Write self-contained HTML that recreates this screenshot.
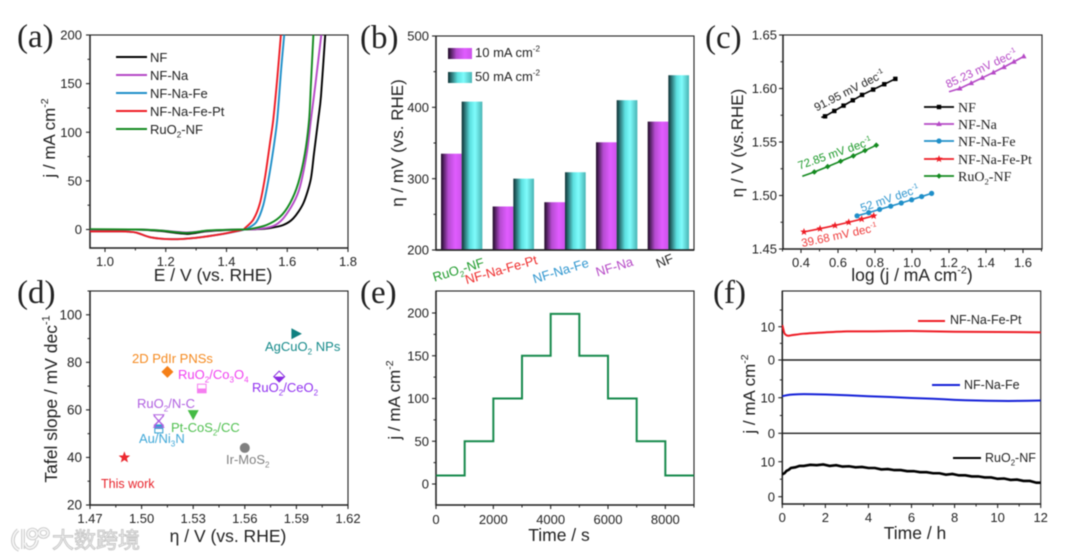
<!DOCTYPE html>
<html><head><meta charset="utf-8"><title>Electrocatalyst performance panels</title>
<style>
html,body{margin:0;padding:0;background:#fff;width:1080px;height:559px;overflow:hidden}
svg{display:block;filter:blur(.4px)}
text{font-family:"Liberation Sans","Noto Sans CJK SC",sans-serif;fill:#222}
</style></head>
<body>
<svg id="fig" xmlns="http://www.w3.org/2000/svg" width="1080" height="559" viewBox="0 0 1080 559">
<defs>
<linearGradient id="g10" x1="0" x2="1" y1="0" y2="0"><stop offset="0" stop-color="#1d0a24"/><stop offset=".35" stop-color="#b44bd0"/><stop offset=".7" stop-color="#e05cff"/><stop offset="1" stop-color="#cc52ea"/></linearGradient>
<linearGradient id="g50" x1="0" x2="1" y1="0" y2="0"><stop offset="0" stop-color="#0d3033"/><stop offset=".4" stop-color="#5ce0e0"/><stop offset=".65" stop-color="#7ffcfc"/><stop offset="1" stop-color="#48b4b4"/></linearGradient>
<clipPath id="clipA"><rect x="90" y="35" width="258" height="213"/></clipPath>
<clipPath id="clipF"><rect x="782" y="291" width="259" height="213"/></clipPath>
</defs>
</svg>
<script>
// Panel (a)
const aSeriesNames = ['NF','NF-Na','NF-Na-Fe','NF-Na-Fe-Pt','RuO_{2}-NF'];
const aE_NF  = [0.95,1.10,1.18,1.27,1.33,1.40,1.50,1.543,1.587,1.62,1.653,1.677,1.688,1.702,1.711,1.725];
const aJ_NF  = [0,0,-1.5,-4.5,-2,-0.5,0.3,1.5,4.6,11.5,27,51,78,113,137,200];
const aE_Na  = [0.95,1.10,1.18,1.27,1.33,1.40,1.50,1.554,1.587,1.62,1.642,1.664,1.678,1.693,1.712];
const aJ_Na  = [0,0,-1,-3,-1.5,-0.3,0.4,3.6,11.5,27,44,78,113,150,200];
const aE_Fe  = [0.95,1.05,1.10,1.15,1.22,1.30,1.38,1.44,1.46,1.472,1.499,1.521,1.538,1.554,1.567,1.58,1.59];
const aJ_Fe  = [-2,-2,-3,-8,-10,-8.5,-5,-1.5,0,1.5,8,25,51,82,113,165,200];
const aE_Pt  = [0.95,1.05,1.10,1.15,1.22,1.30,1.38,1.44,1.455,1.461,1.488,1.51,1.527,1.543,1.554,1.567,1.579];
const aJ_Pt  = [-2,-2,-3,-8,-10,-8.5,-5,-1.2,0,1.5,10,27,54,88.6,113,155,200];
const aE_Ru  = [0.95,1.10,1.18,1.27,1.34,1.44,1.477,1.532,1.576,1.609,1.636,1.658,1.672,1.678,1.686];
const aJ_Ru  = [0.3,0,-1,-3.5,-1,0,0.5,4.6,13,27,47.5,78,113,150,200];
const aXTicks = [1.0,1.2,1.4,1.6,1.8];
const aXMinor = [1.1,1.3,1.5,1.7];
const aYTicks = [0,50,100,150,200];
const aYMinor = [25,75,125,175];
// Panel (b)
const bCategories = ['RuO_{2}-NF','NF-Na-Fe-Pt','NF-Na-Fe','NF-Na','NF'];
const bValues10 = [335,261,267,351,380];
const bValues50 = [408,300,309,410,445];
const bYTicks = [200,300,400,500];
const bYMinor = [250,350,450];
// Panel (c)
const cX_NF = [0.51,0.53,0.58,0.63,0.68,0.73,0.79,0.85,0.91];
const cY_NF = [1.573,1.574,1.579,1.584,1.589,1.594,1.599,1.604,1.609];
const cX_Na = [1.20,1.258,1.32,1.38,1.44,1.497,1.551,1.604];
const cY_Na = [1.597,1.600,1.605,1.610,1.615,1.620,1.625,1.630];
const cX_Fe = [0.703,0.766,0.825,0.885,0.942,0.998,1.052,1.106];
const cY_Fe = [1.481,1.484,1.487,1.490,1.493,1.496,1.499,1.502];
const cX_Pt = [0.416,0.503,0.584,0.658,0.728,0.793];
const cY_Pt = [1.466,1.469,1.472,1.475,1.478,1.481];
const cX_Ru = [0.407,0.472,0.544,0.614,0.683,0.746,0.807];
const cY_Ru = [1.518,1.522,1.527,1.532,1.537,1.542,1.547];
const cXTicks = [0.4,0.6,0.8,1.0,1.2,1.4,1.6];
const cXMinor = [0.3,0.5,0.7,0.9,1.1,1.3,1.5,1.7];
const cYTicks = [1.45,1.50,1.55,1.60,1.65];
const cYMinor = [1.475,1.525,1.575,1.625];
// Panel (d)
const dEta   = [1.49,1.51,1.51,1.53,1.515,1.535,1.58,1.59,1.56];
const dSlope = [40,52,55,58,76,69,74,92,44];
const dXTicks = [1.47,1.50,1.53,1.56,1.59,1.62];
const dXMinor = [1.485,1.515,1.545,1.575,1.605];
const dYTicks = [20,40,60,80,100];
const dYMinor = [30,50,70,90,110];
// Panel (e)
const eStepStart = [0,1000,2000,3000,4000,5000,6000,7000,8000];
const eCurrent   = [10,50,100,150,199,150,100,50,10];
const eEndTime = 9000;
const eXTicks = [0,2000,4000,6000,8000];
const eXMinor = [1000,3000,5000,7000,9000];
const eYTicks = [0,50,100,150,200];
const eYMinor = [25,75,125,175];
// Panel (f)
const fT_Pt = [0,0.05,0.1,0.2,0.3,0.5,1,2,3,4,6,8,10,12];
const fJ_Pt = [10.5,9.2,8,7.4,7.3,7.5,7.9,8.3,8.6,8.6,8.7,8.5,8.4,8.3];
const fT_Fe = [0,0.2,0.5,1,2,3,4,5,6,7,8,9,10,11,12];
const fJ_Fe = [10.4,10.7,10.9,11,10.9,10.7,10.4,10.2,9.9,9.7,9.4,9.2,9.1,9.1,9.2];
const fT_Ru = [0,.1,.2,.3,.4,.6,.8,1,1.3,1.6,1.9,2.2,2.5,2.8,3.1,3.4,3.7,4,4.3,4.6,4.9,5.2,5.5,5.8,6.1,6.4,6.7,7,7.3,7.6,7.9,8.2,8.5,8.8,9.1,9.4,9.7,10,10.3,10.6,10.9,11.2,11.5,11.8,12];
const fJ_Ru = [6.4,6.7,7.4,7.7,8.2,8.4,8.8,8.8,9.1,9.0,9.2,8.8,9.0,8.6,8.7,8.4,8.5,8.2,8.2,7.8,7.9,7.6,7.6,7.3,7.3,7.0,7.0,6.7,6.7,6.3,6.5,6.1,6.1,5.8,5.8,5.5,5.5,5.1,5.2,4.8,4.9,4.5,4.5,4.0,4.0];
const fXTicks = [0,2,4,6,8,10,12];
const fXMinor = [1,3,5,7,9,11];

const NS = 'http://www.w3.org/2000/svg';
const root = document.getElementById('fig');
const INK = '#222';

function linear(d0,d1,r0,r1){ return v => r0 + (v-d0)/(d1-d0)*(r1-r0); }
function mk(tag,name,attrs,parent){
  const el = document.createElementNS(NS,tag);
  
  
  for(const k in attrs) el.setAttribute(k,attrs[k]);
  (parent||root).appendChild(el);
  return el;
}
function fmt(s,size){
  const small = (size*0.62).toFixed(1), sh = (size*0.28).toFixed(1), sup = (size*0.42).toFixed(1);
  return s.replace(/_\{([^}]*)\}/g,`<tspan dy="${sh}" font-size="${small}">$1</tspan><tspan dy="-${sh}">\u200b</tspan>`)
          .replace(/\^\{([^}]*)\}/g,`<tspan dy="-${sup}" font-size="${small}">$1</tspan><tspan dy="${sup}">\u200b</tspan>`);
}
function label(name,x,y,s,size,opts){
  opts = opts||{};
  const a = {x:x,y:y,'font-size':size};
  if(opts.anchor) a['text-anchor']=opts.anchor;
  if(opts.color) a.style='fill:'+opts.color;
  if(opts.rot!==undefined) a.transform=`rotate(${opts.rot} ${x} ${y})`;
  if(opts.serif) a.style=(a.style?a.style+';':'')+'font-family:"Liberation Serif",serif';
  const t = mk('text',name,a);
  t.innerHTML = fmt(s,size);
  return t;
}
function frame(name,x0,x1,y0,y1){
  mk('rect',name+'-frame',{x:x0,y:y0,width:x1-x0,height:y1-y0,fill:'#fff',stroke:INK,'stroke-width':1.1});
  mk('path',name+'-axis-lines',{d:`M${x0} ${y0}V${y1}H${x1}`,fill:'none',stroke:INK,'stroke-width':1.5});
}
function xAxis(name,sx,y,majors,minors,fmtFn,labelY,size){
  majors.forEach(v=>{
    mk('line',name+'-x-tick',{x1:sx(v),x2:sx(v),y1:y,y2:y+4,stroke:INK,'stroke-width':1.1});
    label(name+'-x-tick-label',sx(v),labelY,fmtFn(v),size||13,{anchor:'middle'});
  });
  minors.forEach(v=>{
    mk('line',name+'-x-minor-tick',{x1:sx(v),x2:sx(v),y1:y,y2:y+2.5,stroke:INK,'stroke-width':1});
  });
}
function yAxis(name,sy,x,majors,minors,fmtFn,labelX,size){
  majors.forEach(v=>{
    mk('line',name+'-y-tick',{x1:x-4,x2:x,y1:sy(v),y2:sy(v),stroke:INK,'stroke-width':1.1});
    label(name+'-y-tick-label',labelX,sy(v)+4.6,fmtFn(v),size||13,{anchor:'end'});
  });
  minors.forEach(v=>{
    mk('line',name+'-y-minor-tick',{x1:x-2.5,x2:x,y1:sy(v),y2:sy(v),stroke:INK,'stroke-width':1});
  });
}
function smooth(pts){
  let d = `M${pts[0][0].toFixed(2)} ${pts[0][1].toFixed(2)}`;
  for(let i=0;i<pts.length-1;i++){
    const p0=pts[Math.max(i-1,0)],p1=pts[i],p2=pts[i+1],p3=pts[Math.min(i+2,pts.length-1)];
    const k=0.14;
    d+=`C${(p1[0]+(p2[0]-p0[0])*k).toFixed(2)} ${(p1[1]+(p2[1]-p0[1])*k).toFixed(2)} ${(p2[0]-(p3[0]-p1[0])*k).toFixed(2)} ${(p2[1]-(p3[1]-p1[1])*k).toFixed(2)} ${p2[0].toFixed(2)} ${p2[1].toFixed(2)}`;
  }
  return d;
}
function zip(xs,ys,sx,sy){ return xs.map((x,i)=>[sx(x),sy(ys[i])]); }
function star(r){
  const p=[];
  for(let i=0;i<10;i++){
    const rr=i%2?r*0.42:r, a=-Math.PI/2+i*Math.PI/5;
    p.push((rr*Math.cos(a)).toFixed(2)+','+(rr*Math.sin(a)).toFixed(2));
  }
  return p.join(' ');
}

// Panel letters
[['a',17,47],['b',360,48],['c',705,48],['d',17,303],['e',360,303],['f',713,303]].forEach(p=>{
  label('panel-letter-'+p[0],p[1],p[2],'('+p[0]+')',33,{serif:true});
});

/* ---------- (a) ---------- */
(function(){
  const sx=linear(1.0,1.8,105,348), sy=linear(0,200,229.5,35);
  frame('lsv-plot',90,348,35,248);
  xAxis('lsv',sx,248,aXTicks,aXMinor,v=>v.toFixed(1),266);
  yAxis('lsv',sy,90,aYTicks,aYMinor,v=>String(v),82);
  const colors=['#000','#b548c6','#1f8fc9','#ee1c25','#138a1f'];
  const g=mk('g','lsv-curves',{'clip-path':'url(#clipA)'});
  [[aE_NF,aJ_NF],[aE_Na,aJ_Na],[aE_Fe,aJ_Fe],[aE_Pt,aJ_Pt],[aE_Ru,aJ_Ru]].forEach((s,i)=>{
    mk('path','lsv-curve-'+i,{d:smooth(zip(s[0],s[1],sx,sy)),fill:'none',stroke:colors[i],'stroke-width':1.9},g);
  });
  aSeriesNames.forEach((n,i)=>{
    const y=57+i*18;
    mk('line','lsv-legend-line-'+i,{x1:116,x2:147,y1:y,y2:y,stroke:colors[i],'stroke-width':2});
    label('lsv-legend-label-'+i,150,y+4.8,n,13);
  });
  label('lsv-x-axis-title',213,281,'E / V (vs. RHE)',17.5,{anchor:'middle'});
  label('lsv-y-axis-title',55,138,'j / mA cm^{-2}',17,{anchor:'middle',rot:-90});
})();

/* ---------- (b) ---------- */
(function(){
  const sy=linear(200,500,250,36);
  const left=441, step=51.67, w=20.67;
  const colors=['#1d9a2a','#ee2a2a','#2f96cf','#b548c6','#222'];
  const nudgeX=[-2,-11,-3,-1,-2], nudgeY=[20,20,21,17,11], rot=[-17,-16,-17,-17,-22];
  frame('overpotential-plot',436,694,36,250);
  yAxis('overpotential',sy,436,bYTicks,bYMinor,v=>String(v),429);
  bCategories.forEach((c,i)=>{
    const x=left+i*step;
    mk('rect','bar-10-'+i,{x:x,y:sy(bValues10[i]),width:w,height:250-sy(bValues10[i]),fill:'url(#g10)'});
    mk('rect','bar-50-'+i,{x:x+w,y:sy(bValues50[i]),width:w,height:250-sy(bValues50[i]),fill:'url(#g50)'});
    label('category-label-'+i,x+w+nudgeX[i],250+nudgeY[i]+4,c,13,{anchor:'middle',color:colors[i],rot:rot[i]});
  });
  mk('path','overpotential-baseline',{d:'M436 250H694',stroke:INK,'stroke-width':1.5});
  mk('rect','legend-swatch-10',{x:448,y:48,width:24,height:11,fill:'url(#g10)'});
  mk('rect','legend-swatch-50',{x:448,y:72,width:24,height:11,fill:'url(#g50)'});
  label('legend-label-10',475,57,'10 mA cm^{-2}',13);
  label('legend-label-50',475,81,'50 mA cm^{-2}',13);
  label('overpotential-y-axis-title',403,143,'η / mV (vs. RHE)',17,{anchor:'middle',rot:-90});
})();

/* ---------- (c) ---------- */
(function(){
  const sx=linear(0.4,1.6,801,1023), sy=linear(1.45,1.65,249,35);
  frame('tafel-plot',783,1042,35,249);
  xAxis('tafel',sx,249,cXTicks,cXMinor,v=>v.toFixed(1),267);
  yAxis('tafel',sy,783,cYTicks,cYMinor,v=>v.toFixed(2),777);
  const marker=(type,x,y,color,name)=>{
    if(type==='square') mk('rect',name,{x:x-2.2,y:y-2.2,width:4.4,height:4.4,fill:color});
    if(type==='tri') mk('path',name,{d:`M${x} ${y-3}L${x+2.8} ${y+2}H${x-2.8}Z`,fill:color});
    if(type==='circle') mk('circle',name,{cx:x,cy:y,r:2.6,fill:color});
    if(type==='star') mk('polygon',name,{points:star(3.9),transform:`translate(${x} ${y})`,fill:color});
    if(type==='diamond') mk('path',name,{d:`M${x} ${y-2.8}L${x+2.8} ${y}L${x} ${y+2.8}L${x-2.8} ${y}Z`,fill:color});
  };
  const series=[
    {n:'NF',xs:cX_NF,ys:cY_NF,c:'#000',m:'square',skip:1},
    {n:'NF-Na',xs:cX_Na,ys:cY_Na,c:'#b548c6',m:'tri',skip:1},
    {n:'NF-Na-Fe',xs:cX_Fe,ys:cY_Fe,c:'#1f8fc9',m:'circle',skip:0},
    {n:'NF-Na-Fe-Pt',xs:cX_Pt,ys:cY_Pt,c:'#ee1c25',m:'star',skip:0},
    {n:'RuO_{2}-NF',xs:cX_Ru,ys:cY_Ru,c:'#138a1f',m:'diamond',skip:1}
  ];
  series.forEach((s,i)=>{
    const pts=zip(s.xs,s.ys,sx,sy);
    mk('polyline','tafel-line-'+i,{points:pts.map(p=>p[0].toFixed(2)+','+p[1].toFixed(2)).join(' '),fill:'none',stroke:s.c,'stroke-width':1.6});
    pts.forEach((p,j)=>{ if(j>=s.skip) marker(s.m,p[0],p[1],s.c,'tafel-point-'+i); });
    const ly=[107,124,141,159,176][i];
    mk('line','tafel-legend-line-'+i,{x1:924,x2:954,y1:ly,y2:ly,stroke:s.c,'stroke-width':1.7});
    marker(s.m,939,ly,s.c,'tafel-legend-marker-'+i);
    label('tafel-legend-label-'+i,958,ly+4.8,s.n,14,{serif:true});
  });
  label('slope-label-nf',851,94,'91.95 mV dec^{-1}',11.5,{anchor:'middle',rot:-27,color:'#222'});
  label('slope-label-na',983,72,'85.23 mV dec^{-1}',11.5,{anchor:'middle',rot:-25,color:'#b548c6'});
  label('slope-label-ru',836,157,'72.85 mV dec^{-1}',11.5,{anchor:'middle',rot:-19,color:'#1d9a2a'});
  label('slope-label-fe',891,202,'52 mV dec^{-1}',11.5,{anchor:'middle',rot:-19,color:'#2f96cf'});
  label('slope-label-pt',840,239,'39.68 mV dec^{-1}',11.5,{anchor:'middle',rot:-12,color:'#ee3a3a'});
  label('tafel-x-axis-title',912,281,'log (j / mA cm^{-2})',17.5,{anchor:'middle'});
  label('tafel-y-axis-title',743,143,'η / V (vs.RHE)',17,{anchor:'middle',rot:-90});
})();

/* ---------- (d) ---------- */
(function(){
  const sx=linear(1.47,1.62,90,348), sy=linear(20,110,505,291);
  frame('comparison-plot',90,348,291,505);
  xAxis('comparison',sx,505,dXTicks,dXMinor,v=>v.toFixed(2),523);
  yAxis('comparison',sy,90,dYTicks,dYMinor,v=>String(v),82,13.5);
  const draw=[
    (g)=>{ mk('polygon','this-work-star',{points:star(5.2),fill:'#ee2a30',stroke:'#e8222a','stroke-width':.6},g); },
    (g)=>{ mk('rect','au-ni3n-box',{x:-4,y:-4,width:8,height:8,fill:'#fff',stroke:'#2f9fd0','stroke-width':1},g);
           mk('rect','au-ni3n-fill',{x:-4,y:-4,width:8,height:4,fill:'#2f9fd0'},g); },
    (g)=>{ mk('path','ruo2-nc-triangle-up',{d:'M0 -1L5 5.5H-5Z',fill:'none',stroke:'#b060e0','stroke-width':1},g);
           mk('path','ruo2-nc-triangle-down',{d:'M-5 -7H5L0 0Z',fill:'none',stroke:'#b060e0','stroke-width':1},g);
           mk('path','ruo2-nc-cross',{d:'M-5 -6L5 4M5 -6L-5 4',stroke:'#b060e0','stroke-width':1},g); },
    (g)=>{ mk('path','pt-cos2-triangle',{d:'M-5.5 -4.5H5.5L0 5.5Z',fill:'#44bb44'},g); },
    (g)=>{ mk('path','pdir-diamond',{d:'M0 -6L6 0L0 6L-6 0Z',fill:'#f57f17'},g); },
    (g)=>{ mk('rect','ruo2-co3o4-box',{x:-4.3,y:-4.3,width:8.6,height:8.6,fill:'#fff',stroke:'#f57ef0','stroke-width':1},g);
           mk('rect','ruo2-co3o4-fill',{x:-4.3,y:0,width:8.6,height:4.3,fill:'#f57ef0'},g); },
    (g)=>{ mk('path','ruo2-ceo2-diamond',{d:'M0 -5.5L5.5 0L0 5.5L-5.5 0Z',fill:'#fff',stroke:'#8a2be2','stroke-width':1},g);
           mk('path','ruo2-ceo2-fill',{d:'M-5.5 0H5.5L0 5.5Z',fill:'#8a2be2'},g); },
    (g)=>{ mk('path','agcuo2-triangle',{d:'M-5 -5.5V5.5L5.5 0Z',fill:'#0f8080'},g); },
    (g)=>{ mk('circle','ir-mos2-circle',{cx:0,cy:0,r:5,fill:'#808080'},g); }
  ];
  dEta.forEach((e,i)=>{
    const g=mk('g','comparison-point-'+i,{transform:`translate(${sx(e)} ${sy(dSlope[i])})`});
    draw[i](g);
  });
  label('label-this-work',101,488,'This work',12.5,{color:'#e8222a'});
  label('label-au-ni3n',139,443,'Au/Ni_{3}N',13,{color:'#40a8d8'});
  label('label-ruo2-nc',137,408,'RuO_{2}/N-C',13,{color:'#b060e0'});
  label('label-pt-cos2',171,432,'Pt-CoS_{2}/CC',13,{color:'#50c050'});
  label('label-pdir',132,363,'2D PdIr PNSs',13,{color:'#f58a20'});
  label('label-ruo2-co3o4',178,379,'RuO_{2}/Co_{3}O_{4}',13,{color:'#f040f0'});
  label('label-ruo2-ceo2',252,392,'RuO_{2}/CeO_{2}',13,{color:'#9030f0'});
  label('label-agcuo2',265,351,'AgCuO_{2} NPs',13,{color:'#158a8a'});
  label('label-ir-mos2',226,464,'Ir-MoS_{2}',13,{color:'#808080'});
  label('comparison-x-axis-title',228,542,'η / V (vs. RHE)',17.5,{anchor:'middle'});
  label('comparison-y-axis-title',57,399,'Tafel slope / mV dec^{-1}',17.5,{anchor:'middle',rot:-90});
})();

/* ---------- (e) ---------- */
(function(){
  const sx=linear(0,9000,436,694), sy=linear(0,200,484,313);
  frame('step-plot',436,694,291,505);
  xAxis('step',sx,505,eXTicks,eXMinor,v=>String(v),524);
  yAxis('step',sy,436,eYTicks,eYMinor,v=>String(v),429);
  let d='';
  eStepStart.forEach((t,i)=>{
    const end=i<eStepStart.length-1?eStepStart[i+1]:eEndTime;
    d+=(i?'L':'M')+sx(t).toFixed(2)+' '+sy(eCurrent[i]).toFixed(2)+'L'+sx(end).toFixed(2)+' '+sy(eCurrent[i]).toFixed(2);
  });
  mk('path','step-curve',{d:d,fill:'none',stroke:'#178a4c','stroke-width':2});
  label('step-x-axis-title',559,541,'Time / s',17.5,{anchor:'middle'});
  label('step-y-axis-title',400,400,'j / mA cm^{-2}',17,{anchor:'middle',rot:-90});
})();

/* ---------- (f) ---------- */
(function(){
  const sx=linear(0,12,782.3,1040.7);
  const syPt=linear(0,10,360,326.7), syFe=linear(0,10,433.3,397.7), syRu=linear(0,10,496.7,461.7);
  frame('stability-plot',782.3,1040.7,291,504);
  mk('path','stability-divider-top',{d:'M782 360H1041',stroke:INK,'stroke-width':1.4});
  mk('path','stability-divider-bottom',{d:'M782 433.3H1041',stroke:INK,'stroke-width':1.4});
  xAxis('stability',sx,504,fXTicks,fXMinor,v=>String(v),522);
  [syPt,syFe,syRu].forEach((sy,i)=>{
    yAxis('stability-'+i,sy,782.3,[0,10],i===2?[5]:[5,15],v=>String(v),775);
  });
  const g=mk('g','stability-curves',{'clip-path':'url(#clipF)'});
  mk('path','stability-curve-pt',{d:smooth(zip(fT_Pt,fJ_Pt,sx,syPt)),fill:'none',stroke:'#ee1c25','stroke-width':2},g);
  mk('path','stability-curve-fe',{d:smooth(zip(fT_Fe,fJ_Fe,sx,syFe)),fill:'none',stroke:'#1420d8','stroke-width':2},g);
  mk('polyline','stability-curve-ru',{points:zip(fT_Ru,fJ_Ru,sx,syRu).map(p=>p[0].toFixed(2)+','+p[1].toFixed(2)).join(' '),fill:'none',stroke:'#000','stroke-width':2.6},g);
  mk('line','stability-legend-line-pt',{x1:918,x2:945,y1:321,y2:321,stroke:'#ee1c25','stroke-width':2});
  label('stability-legend-label-pt',950,324,'NF-Na-Fe-Pt',12.5);
  mk('line','stability-legend-line-fe',{x1:932,x2:960,y1:385,y2:385,stroke:'#1420d8','stroke-width':2});
  label('stability-legend-label-fe',964,389,'NF-Na-Fe',12.5);
  mk('line','stability-legend-line-ru',{x1:953,x2:981,y1:458,y2:458,stroke:'#000','stroke-width':2});
  label('stability-legend-label-ru',985,462,'RuO_{2}-NF',12.5);
  label('stability-x-axis-title',915,539,'Time / h',17.5,{anchor:'middle'});
  label('stability-y-axis-title',755,394,'j / mA cm^{-2}',17,{anchor:'middle',rot:-90});
})();

/* ---------- watermark ---------- */
(function(){
  const logo='M18 530C11 536 11 546 19 550M23 529V549M37 540C36 549 26 551 25 543M28 534a4.5 4.5 0 1 0 9 0a4.5 4.5 0 1 0 -9 0M39 533a4.5 4 0 1 0 9 0a4.5 4 0 1 0 -9 0';
  mk('path','watermark-logo-outline',{d:logo,fill:'none',stroke:'#c4c4c4','stroke-width':3.6});
  mk('path','watermark-logo',{d:logo,fill:'none',stroke:'#f6f6f6','stroke-width':1.9});
  const t=label('watermark-text',52,548,'大数跨境',22,{color:'#f4f4f4'});
  t.setAttribute('stroke','#c6c6c6');
  t.setAttribute('stroke-width','0.9');
})();
</script>
</body></html>
